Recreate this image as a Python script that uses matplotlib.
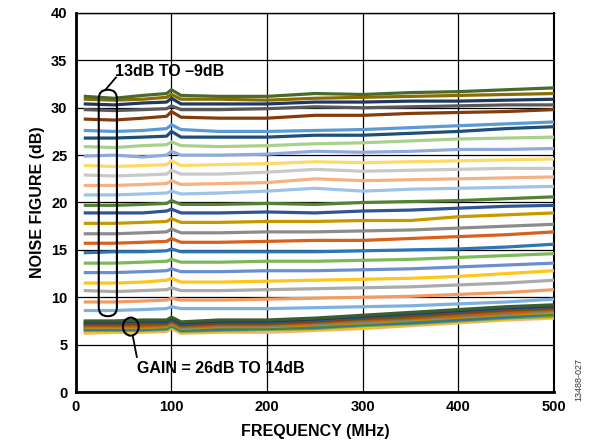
import matplotlib
matplotlib.use("Agg")
import matplotlib.pyplot as plt
from matplotlib.patches import FancyBboxPatch, Ellipse

plt.rcParams['font.family'] = ['Liberation Sans', 'DejaVu Sans']

freq_mhz = [10, 40, 70, 95, 100, 110, 150, 200, 250, 300, 350, 400, 450, 500]

# Gain = 13 dB to -9 dB (upper group), top to bottom
upper_colors = ['#4A6A2A', '#8A6D00', '#1F3864', '#595959', '#843C0C', '#5B9BD5',
                '#1F4E79', '#A9D18E', '#8FAADC', '#FFD966', '#C9C9C9', '#F4B183',
                '#9DC3E6', '#548235', '#2F5597', '#C59A00', '#8C8C8C', '#D8601A',
                '#2E75B6', '#7DB95A', '#6A8FD0', '#FFC61A', '#ABABAB', '#F29C62',
                '#7EB0E0']
upper_nf = [
    [31.2, 31.0, 31.3, 31.5, 31.9, 31.3, 31.2, 31.2, 31.5, 31.4, 31.6, 31.7, 31.9, 32.1],
    [30.9, 30.8, 30.9, 31.1, 31.4, 30.9, 30.9, 30.8, 31.0, 31.1, 31.2, 31.3, 31.4, 31.5],
    [30.4, 30.3, 30.5, 30.6, 31.0, 30.4, 30.4, 30.4, 30.6, 30.6, 30.7, 30.7, 30.8, 30.9],
    [29.8, 29.7, 29.8, 29.9, 30.2, 29.8, 29.8, 29.9, 30.1, 30.0, 30.1, 30.2, 30.3, 30.3],
    [28.8, 28.7, 28.9, 29.1, 29.6, 29.0, 28.9, 28.9, 29.2, 29.2, 29.4, 29.5, 29.6, 29.8],
    [27.6, 27.5, 27.6, 27.8, 28.2, 27.7, 27.5, 27.5, 27.6, 27.7, 27.9, 28.1, 28.3, 28.5],
    [26.8, 26.8, 26.9, 27.0, 27.5, 26.9, 26.9, 26.9, 27.1, 27.1, 27.3, 27.5, 27.8, 28.0],
    [25.9, 25.8, 26.0, 26.1, 26.4, 26.0, 25.9, 26.0, 26.2, 26.3, 26.5, 26.7, 26.8, 26.9],
    [24.9, 25.0, 24.8, 25.0, 25.4, 25.0, 25.0, 25.1, 25.4, 25.3, 25.4, 25.6, 25.6, 25.7],
    [23.9, 23.8, 23.9, 24.0, 24.4, 23.9, 24.0, 24.1, 24.3, 24.2, 24.3, 24.4, 24.5, 24.6],
    [22.9, 22.8, 22.9, 23.0, 23.4, 23.0, 23.0, 23.2, 23.5, 23.3, 23.4, 23.5, 23.6, 23.6],
    [21.8, 21.8, 21.9, 22.0, 22.3, 21.9, 22.0, 22.1, 22.5, 22.3, 22.4, 22.5, 22.6, 22.7],
    [20.8, 20.8, 20.9, 21.0, 21.2, 20.9, 21.0, 21.2, 21.5, 21.2, 21.4, 21.5, 21.6, 21.7],
    [19.7, 19.7, 19.8, 19.9, 20.2, 19.8, 19.8, 19.9, 19.8, 20.0, 20.1, 20.2, 20.4, 20.6],
    [18.9, 18.9, 18.9, 19.1, 19.3, 18.9, 18.9, 19.0, 18.9, 19.1, 19.2, 19.4, 19.6, 19.7],
    [17.8, 17.8, 17.9, 18.0, 18.3, 17.9, 17.9, 18.0, 18.0, 18.1, 18.1, 18.5, 18.7, 18.9],
    [16.7, 16.7, 16.8, 16.9, 17.2, 16.8, 16.8, 16.9, 16.9, 17.0, 17.1, 17.3, 17.5, 17.7],
    [15.7, 15.7, 15.8, 15.9, 16.2, 15.8, 15.8, 15.9, 16.0, 16.0, 16.2, 16.4, 16.6, 16.9],
    [14.7, 14.8, 14.8, 14.9, 15.1, 14.8, 14.8, 14.8, 14.8, 14.9, 15.0, 15.1, 15.3, 15.6],
    [13.6, 13.6, 13.7, 13.8, 14.0, 13.7, 13.7, 13.8, 13.8, 13.9, 14.0, 14.2, 14.4, 14.6],
    [12.6, 12.6, 12.7, 12.8, 13.0, 12.7, 12.7, 12.8, 12.8, 12.9, 13.0, 13.2, 13.4, 13.6],
    [11.5, 11.5, 11.6, 11.8, 12.0, 11.6, 11.6, 11.7, 11.8, 11.9, 12.0, 12.2, 12.5, 12.8],
    [10.7, 10.6, 10.7, 10.8, 11.0, 10.7, 10.7, 10.8, 10.9, 11.0, 11.1, 11.3, 11.5, 11.8],
    [9.5, 9.5, 9.6, 9.7, 9.9, 9.7, 9.7, 9.8, 9.9, 10.0, 10.1, 10.3, 10.5, 10.8],
    [8.6, 8.6, 8.7, 8.8, 9.0, 8.8, 8.8, 8.8, 8.9, 9.0, 9.1, 9.3, 9.5, 9.8],
]

# Gain = 26 dB to 14 dB (lower cluster), top to bottom
lower_colors = ['#3B5E2B', '#1F3864', '#2F5597', '#843C0C', '#7F6000', '#C55A11',
                '#7F7F7F', '#BF9000', '#548235', '#2E75B6', '#70AD47', '#FFC000',
                '#F4B183']
lower_nf = [
    [7.5, 7.5, 7.6, 7.6, 7.9, 7.4, 7.6, 7.6, 7.8, 8.1, 8.4, 8.7, 9.0, 9.2],
    [7.4, 7.4, 7.5, 7.5, 7.8, 7.3, 7.5, 7.5, 7.7, 8.0, 8.3, 8.6, 8.9, 9.1],
    [7.3, 7.3, 7.4, 7.4, 7.7, 7.2, 7.4, 7.4, 7.6, 7.9, 8.2, 8.5, 8.8, 9.0],
    [7.2, 7.2, 7.3, 7.3, 7.6, 7.1, 7.3, 7.3, 7.5, 7.8, 8.1, 8.4, 8.7, 8.9],
    [7.1, 7.1, 7.1, 7.2, 7.5, 7.0, 7.2, 7.2, 7.4, 7.7, 7.9, 8.3, 8.6, 8.8],
    [7.0, 7.0, 7.0, 7.1, 7.4, 6.9, 7.1, 7.1, 7.3, 7.6, 7.8, 8.1, 8.4, 8.7],
    [6.9, 6.9, 6.9, 7.0, 7.3, 6.8, 7.0, 7.0, 7.2, 7.4, 7.7, 8.0, 8.3, 8.6],
    [6.8, 6.8, 6.8, 6.9, 7.2, 6.7, 6.9, 6.9, 7.1, 7.3, 7.6, 7.9, 8.2, 8.4],
    [6.7, 6.7, 6.7, 6.8, 7.1, 6.6, 6.8, 6.8, 6.9, 7.2, 7.5, 7.8, 8.1, 8.3],
    [6.6, 6.6, 6.6, 6.7, 7.0, 6.5, 6.6, 6.7, 6.8, 7.1, 7.3, 7.6, 7.9, 8.2],
    [6.5, 6.5, 6.5, 6.6, 6.9, 6.4, 6.5, 6.6, 6.7, 7.0, 7.2, 7.5, 7.8, 8.0],
    [6.4, 6.4, 6.4, 6.5, 6.8, 6.3, 6.4, 6.5, 6.6, 6.8, 7.1, 7.4, 7.7, 7.9],
    [6.2, 6.3, 6.3, 6.4, 6.7, 6.2, 6.3, 6.3, 6.5, 6.7, 7.0, 7.3, 7.6, 7.8],
]

x_ticks = [0, 100, 200, 300, 400, 500]
y_ticks = [0, 5, 10, 15, 20, 25, 30, 35, 40]

fig = plt.figure(figsize=(5.92, 4.48), dpi=100)
ax = fig.add_axes([0.128, 0.125, 0.808, 0.846])

for vals, c in zip(lower_nf[::-1], lower_colors[::-1]):
    ax.plot(freq_mhz, vals, color=c, lw=2.3, solid_joinstyle='round', zorder=3)
for vals, c in zip(upper_nf[::-1], upper_colors[::-1]):
    ax.plot(freq_mhz, vals, color=c, lw=2.3, solid_joinstyle='round', zorder=3)

ax.set_xlim(0, 500)
ax.set_ylim(0, 40)
ax.set_xticks(x_ticks)
ax.set_yticks(y_ticks)
ax.grid(True, color='black', lw=0.9, zorder=1)
ax.set_axisbelow(True)
for s in ax.spines.values():
    s.set_color('black')
    s.set_linewidth(1.0)
ax.spines['left'].set_linewidth(2.0)
ax.spines['bottom'].set_linewidth(2.0)
ax.spines['right'].set_linewidth(1.5)
ax.tick_params(axis='both', length=0, pad=6, labelsize=10.5)
for lab in ax.get_xticklabels() + ax.get_yticklabels():
    lab.set_fontweight('bold')
ax.set_xlabel('FREQUENCY (MHz)', fontsize=11.5, fontweight='bold', labelpad=7)
ax.set_ylabel('NOISE FIGURE (dB)', fontsize=11.5, fontweight='bold', labelpad=4)

# annotation: rounded rectangle around upper group
box = FancyBboxPatch((24, 8.0), 19, 23.9,
                     boxstyle='round,pad=0,rounding_size=9.4',
                     mutation_aspect=0.101, fill=False, ec='black', lw=1.5, zorder=5)
ax.add_patch(box)
ax.plot([31, 42], [31.9, 33.2], color='black', lw=1.3, zorder=5)
ax.text(41, 33.8, '13dB TO \u20139dB', fontsize=11.5, fontweight='bold', va='center', ha='left', zorder=6)

# annotation: small ellipse around lower cluster
ell = Ellipse((57.5, 6.9), 16.5, 1.9, fill=False, ec='black', lw=1.5, zorder=5)
ax.add_patch(ell)
ax.plot([59.6, 63.8], [5.9, 3.7], color='black', lw=1.3, zorder=5)
ax.text(63.5, 2.5, 'GAIN = 26dB TO 14dB', fontsize=11.5, fontweight='bold', va='center', ha='left', zorder=6)

fig.text(0.977, 0.105, '13488-027', rotation=90, fontsize=6.5, color='#333333', ha='center', va='bottom')

fig.savefig('out.png', dpi=100)
